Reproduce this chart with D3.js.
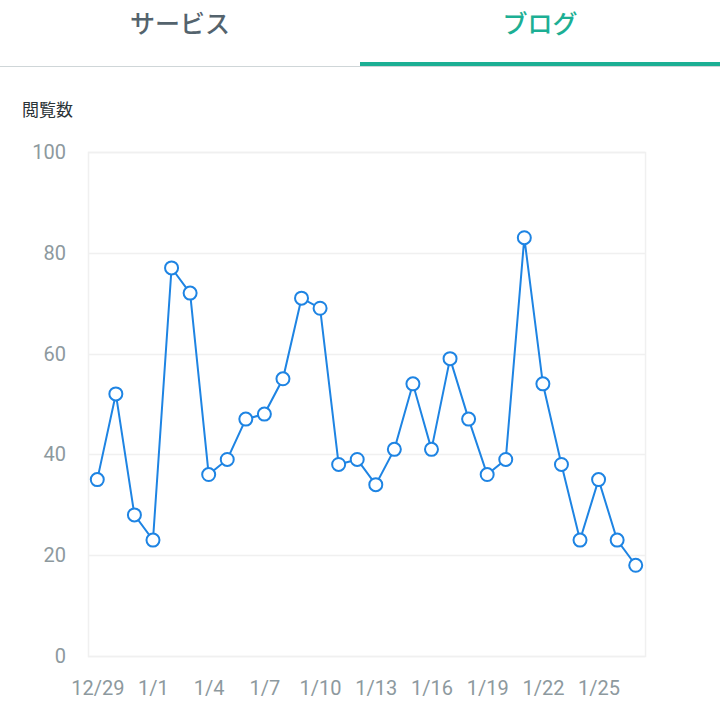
<!DOCTYPE html>
<html>
<head>
<meta charset="utf-8">
<script src="https://cdn.jsdelivr.net/npm/d3@7"></script>
<style>
  body { margin: 0; background: #fff; }
  svg { display: block; font-family: Roboto, "Noto Sans CJK JP", sans-serif; }
</style>
</head>
<body>
<div id="chart"></div>
<script>
const tabs = ["サービス", "ブログ"];
const activeTab = 1;
const yTitle = "閲覧数";

const dates = ["12/29", "12/30", "12/31", "1/1", "1/2", "1/3", "1/4", "1/5", "1/6", "1/7",
  "1/8", "1/9", "1/10", "1/11", "1/12", "1/13", "1/14", "1/15", "1/16", "1/17",
  "1/18", "1/19", "1/20", "1/21", "1/22", "1/23", "1/24", "1/25", "1/26", "1/27"];
const views = [35, 52, 28, 23, 77, 72, 36, 39, 47, 48,
  55, 71, 69, 38, 39, 34, 41, 54, 41, 59,
  47, 36, 39, 83, 54, 38, 23, 35, 23, 18];
const yTicks = [0, 20, 40, 60, 80, 100];
const xTickLabels = ["12/29", "1/1", "1/4", "1/7", "1/10", "1/13", "1/16", "1/19", "1/22", "1/25"];

const width = 720, height = 709;
const margin = { top: 152, right: 75, bottom: 53, left: 88 };

const svg = d3.select("#chart").append("svg")
  .attr("width", width)
  .attr("height", height);

// tabs
const tabX = d3.scaleBand().domain(tabs).range([0, width]);

svg.append("line")
  .attr("x1", 0).attr("x2", width)
  .attr("y1", 66.5).attr("y2", 66.5)
  .attr("stroke", "#cfd6d8");

svg.selectAll(".tab")
  .data(tabs)
  .enter()
  .append("text")
  .attr("class", "tab")
  .attr("x", d => tabX(d) + tabX.bandwidth() / 2)
  .attr("y", 33)
  .attr("text-anchor", "middle")
  .attr("font-family", "'Noto Sans CJK JP', sans-serif")
  .attr("font-size", 25)
  .attr("font-weight", 500)
  .attr("fill", (d, i) => i === activeTab ? "#1caf94" : "#54636d")
  .text(d => d);

svg.append("rect")
  .attr("x", tabX(tabs[activeTab]))
  .attr("y", 62)
  .attr("width", tabX.bandwidth())
  .attr("height", 4)
  .attr("fill", "#1caf94");

svg.append("text")
  .attr("x", 22)
  .attr("y", 116)
  .attr("font-family", "'Noto Sans CJK JP', sans-serif")
  .attr("font-size", 17)
  .attr("fill", "#2b3438")
  .text(yTitle);

// chart
const x = d3.scalePoint()
  .domain(dates)
  .range([margin.left, width - margin.right])
  .padding(0.5);

const y = d3.scaleLinear()
  .domain([0, 100])
  .range([height - margin.bottom, margin.top]);

const grid = svg.append("g");
grid.selectAll("line")
  .data(yTicks)
  .enter()
  .append("line")
  .attr("x1", margin.left)
  .attr("x2", width - margin.right)
  .attr("y1", d => Math.round(y(d)) + 0.5)
  .attr("y2", d => Math.round(y(d)) + 0.5)
  .attr("stroke", "#f0f0f0")
  .attr("stroke-width", 1.5);

grid.append("rect")
  .attr("x", margin.left + 0.5)
  .attr("y", margin.top + 0.5)
  .attr("width", width - margin.left - margin.right)
  .attr("height", height - margin.top - margin.bottom)
  .attr("fill", "none")
  .attr("stroke", "#f0f0f0")
  .attr("stroke-width", 1.5);

const yAxis = svg.append("g")
  .attr("transform", "translate(" + (margin.left - 22) + ",0)")
  .call(d3.axisLeft(y).tickValues(yTicks).tickSize(0).tickPadding(0));
yAxis.select(".domain").remove();
yAxis.selectAll("text")
  .attr("font-family", "Roboto, sans-serif")
  .attr("font-size", 20)
  .attr("fill", "#8d999e");

const xAxis = svg.append("g")
  .attr("transform", "translate(0," + (height - margin.bottom) + ")")
  .call(d3.axisBottom(x).tickValues(xTickLabels).tickSize(0).tickPadding(25));
xAxis.select(".domain").remove();
xAxis.selectAll("text")
  .attr("font-family", "Roboto, sans-serif")
  .attr("font-size", 20)
  .attr("fill", "#8d999e");

const line = d3.line()
  .x((d, i) => x(dates[i]))
  .y(d => y(d));

svg.append("path")
  .datum(views)
  .attr("d", line)
  .attr("fill", "none")
  .attr("stroke", "#1e84e3")
  .attr("stroke-width", 2);

svg.selectAll(".dot")
  .data(views)
  .enter()
  .append("circle")
  .attr("class", "dot")
  .attr("cx", (d, i) => x(dates[i]))
  .attr("cy", d => y(d))
  .attr("r", 6.5)
  .attr("fill", "#fff")
  .attr("stroke", "#1e84e3")
  .attr("stroke-width", 2);
</script>
</body>
</html>
